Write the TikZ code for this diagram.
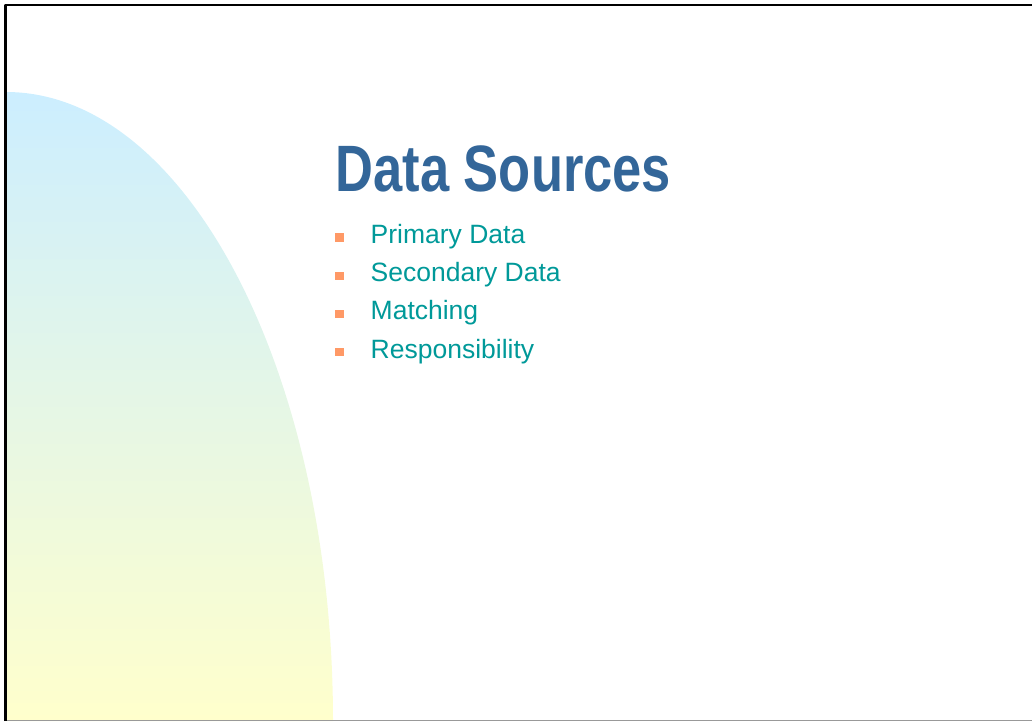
\documentclass[tikz,border=0pt]{standalone}
\usepackage{fontspec}
\setmainfont{Liberation Sans}
\newfontfamily\titlefont[FakeStretch=0.8]{Liberation Sans}

\begin{document}
\begin{tikzpicture}[line cap=round,line join=round,x=1pt,y=1pt,
  itemtext/.style={anchor=base west,inner sep=0pt,text=qqzzzz,font=\fontsize{26.5}{30}\selectfont},
  bulletbox/.style={fill=ffzzww,minimum size=8.5pt,inner sep=0pt}]
\definecolor{ttwwzz}{rgb}{0.2,0.4,0.6}
\definecolor{qqzzzz}{rgb}{0.,0.6,0.6}
\definecolor{ffzzww}{rgb}{1.,0.6,0.4}
\definecolor{cceeff}{rgb}{0.8,0.9333333333333333,1.}
\definecolor{ffffcc}{rgb}{1.,1.,0.8}
\definecolor{zzzzzz}{rgb}{0.6,0.6,0.6}
\useasboundingbox (0,0) rectangle (1032,721);
% background arc
\shade[top color=cceeff,bottom color=ffffcc] (6,0) -- (6,629) arc[start angle=90,end angle=0,x radius=327,y radius=629] -- cycle;
% frame
\draw [line width=1.5pt,color=zzzzzz] (6,0.75)-- (1032,0.75);
\draw [line width=2.5pt,line cap=butt] (5.5,0)-- (5.5,716)-- (1032,716);
% title
\node[anchor=base west,inner sep=0pt,text=ttwwzz,font=\titlefont\bfseries\fontsize{65.6}{70}\selectfont] (title) at (335.5,529) {Data Sources};
% list
\node[bulletbox] (b1) at (339.5,483.5) {};
\node[itemtext] (prim) at (370.5,477.5) {Primary Data};
\node[bulletbox] (b2) at (339.5,445) {};
\node[itemtext] (second) at (370.5,439) {Secondary Data};
\node[bulletbox] (b3) at (339.5,407) {};
\node[itemtext] (match) at (370.5,401) {Matching};
\node[bulletbox] (b4) at (339.5,369) {};
\node[itemtext] (resp) at (370.5,363) {Responsibility};
\end{tikzpicture}
\end{document}
